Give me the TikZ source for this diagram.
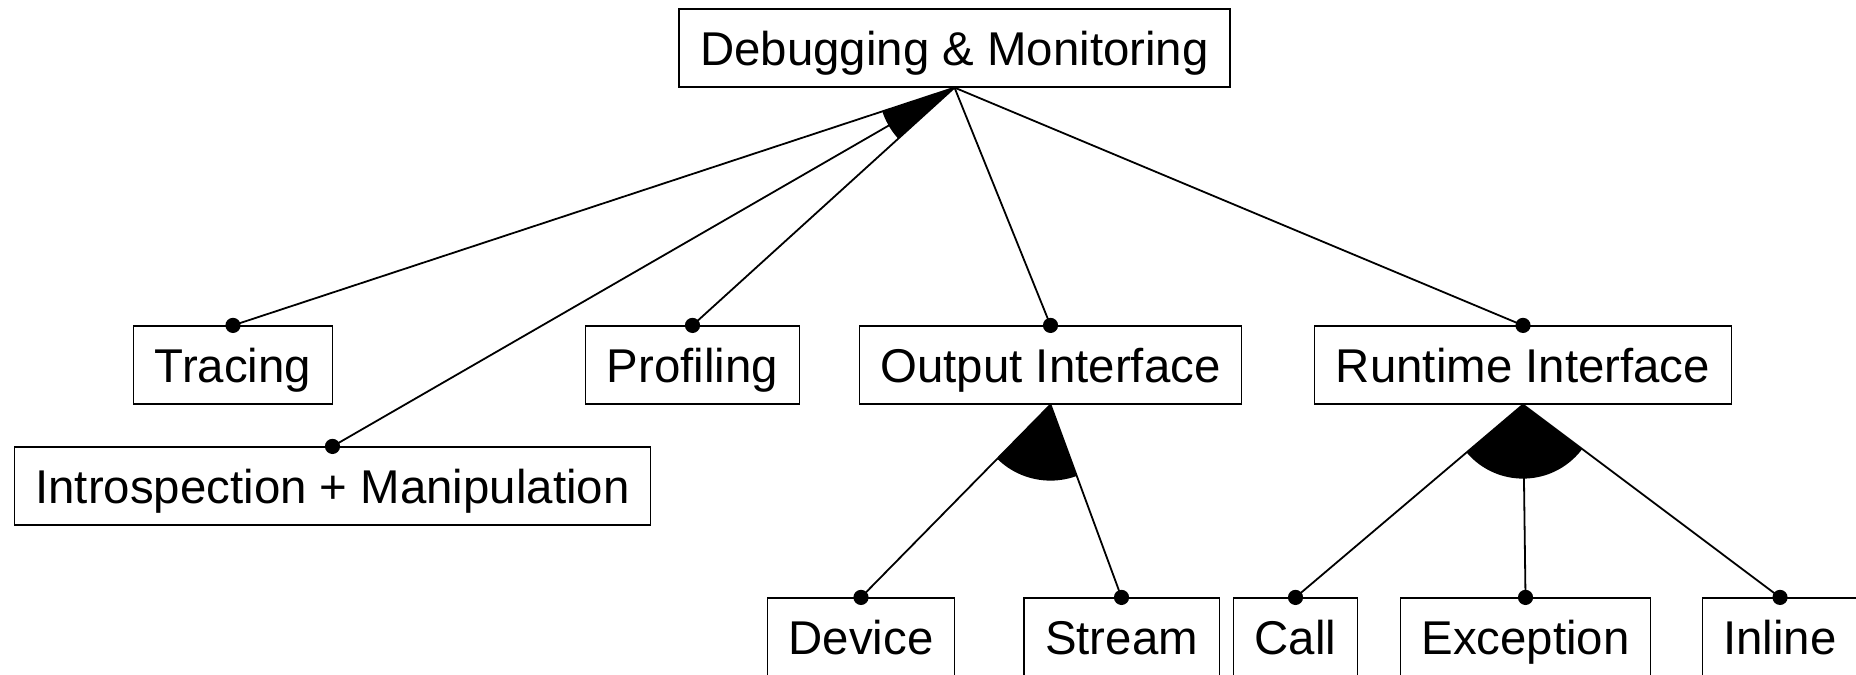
\documentclass[tikz,border=0pt]{standalone}
\usepackage{fontspec}
\setmainfont{Liberation Sans}

\begin{document}
\begin{tikzpicture}[x=0.5pt,y=-0.5pt,
  feature/.style={draw, line width=0.6pt, inner xsep=10.6pt, minimum height=39pt,
    text height=17.5pt, text depth=0pt, font=\fontsize{23.7}{28}\selectfont},
  link/.style={line width=0.9pt},
  group/.style={fill=black}]
  \clip (0,0) rectangle (1856,674);
  % features
  \node[feature] (dm) at (954.5,48) {Debugging \& Monitoring};
  \node[feature] (trace) at (233,365) {Tracing};
  \node[feature] (intro) at (332.5,486) {Introspection + Manipulation};
  \node[feature] (prof) at (692.5,365) {Profiling};
  \node[feature] (out) at (1050.5,365) {Output Interface};
  \node[feature] (rt) at (1523,365) {Runtime Interface};
  \node[feature] (dev) at (861,637) {Device};
  \node[feature] (strm) at (1121.5,637) {Stream};
  \node[feature] (call) at (1295.5,637) {Call};
  \node[feature] (exc) at (1525.5,637) {Exception};
  \node[feature] (inl) at (1780,637) {Inline};
  % links
  \draw[link] (dm.south) -- (trace.north);
  \draw[link] (dm.south) -- (intro.north);
  \draw[link] (dm.south) -- (prof.north);
  \draw[link] (dm.south) -- (out.north);
  \draw[link] (dm.south) -- (rt.north);
  \draw[link] (out.south) -- (dev.north);
  \draw[link] (out.south) -- (strm.north);
  \draw[link] (rt.south) -- (call.north);
  \draw[link] (rt.south) -- (exc.north);
  \draw[link] (rt.south) -- (inl.north);
  % groups
  \begin{scope}
    \clip (dm.south) circle (38pt);
    \fill[group] (dm.south) -- (trace.north) -- (prof.north) -- cycle;
  \end{scope}
  \begin{scope}
    \clip (out.south) circle (38pt);
    \fill[group] (out.south) -- (dev.north) -- (strm.north) -- cycle;
  \end{scope}
  \begin{scope}
    \clip (rt.south) circle (37pt);
    \fill[group] (rt.south) -- (call.north) -- (inl.north) -- cycle;
  \end{scope}
  % end dots
  \foreach \n in {trace,intro,prof,out,rt,dev,strm,call,exc,inl}
    \fill (\n.north) circle (3.8pt);
\end{tikzpicture}
\end{document}
